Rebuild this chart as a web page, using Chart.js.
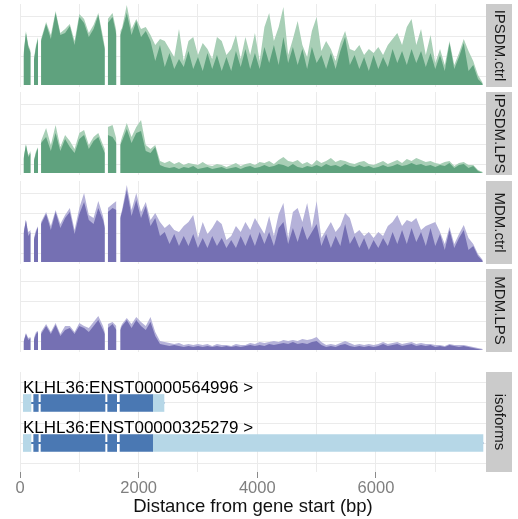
<!DOCTYPE html>
<html>
<head>
<meta charset="utf-8">
<script src="https://cdn.jsdelivr.net/npm/chart.js@4.4.1/dist/chart.umd.min.js"></script>
<style>
body { margin: 0; background: #fff; }
#wrap { position: relative; width: 518px; height: 519px; overflow: hidden; }
canvas { position: absolute; left: 0; }
</style>
</head>
<body>
<div id="wrap">
<canvas id="ipsdmCtrl" width="518" height="83" style="top:4px"></canvas>
<canvas id="ipsdmLps" width="518" height="83" style="top:92px"></canvas>
<canvas id="mdmCtrl" width="518" height="83" style="top:181px"></canvas>
<canvas id="mdmLps" width="518" height="83" style="top:269px"></canvas>
<canvas id="isoforms" width="518" height="147" style="top:372px"></canvas>
</div>
<script>
// distance from gene start (bp) of each coverage sample, null rows are the introns
let positions = [60, 100, 140, 180, 208,
    235, 270, 305, 331,
    355, 440, 520, 600, 680, 760, 840, 920, 1000, 1080, 1160, 1240, 1320, 1400, 1430, 1445,
    1480, 1560, 1625, 1655,
    1690,
    1720, 1800, 1880, 1960, 2040, 2120, 2200, 2280, 2360, 2440,
    2520, 2600, 2680, 2760, 2840, 2920, 3000, 3080, 3160, 3240,
    3320, 3400, 3480, 3560, 3640, 3720, 3800, 3880, 3960, 4040,
    4120, 4200, 4280, 4360, 4440, 4520, 4600, 4680, 4760, 4840,
    4920, 5000, 5080, 5160, 5240, 5320, 5400, 5480, 5560, 5640,
    5720, 5800, 5880, 5960, 6040, 6120, 6200, 6280, 6360, 6440,
    6520, 6600, 6680, 6760, 6840, 6920, 7000, 7080, 7160, 7240,
    7320, 7400, 7480, 7560, 7640, 7720, 7800];

let ipsdmCtrlLow = [30, 52, 38, 32, null,
    25, 38, 46, null,
    44, 61, 46, 72, 50, 52, 59, 40, 68, 62, 48, 56, 70, 44, 36, null,
    62, 68, 50, null,
    50,
    55, 72, 50, 64, 48, 54, 44, 24, 40, 18,
    32, 16, 26, 18, 34, 16, 28, 14, 32, 16,
    30, 14, 28, 14, 34, 18, 36, 16, 32, 16,
    38, 22, 40, 20, 48, 22, 38, 20, 36, 16,
    38, 22, 30, 16, 32, 16, 34, 48, 20, 30,
    16, 28, 14, 30, 16, 28, 18, 36, 22, 34,
    20, 36, 22, 34, 18, 32, 16, 30, 14, 42,
    16, 28, 42, 14, 20, 6, 1];
let ipsdmCtrlHigh = [32, 54, 40, 34, null,
    27, 40, 48, null,
    46, 63, 50, 74, 52, 56, 61, 44, 71, 66, 52, 60, 72, 48, 38, null,
    66, 72, 54, null,
    54,
    57, 80, 56, 66, 56, 58, 50, 40, 46, 44,
    36, 28, 56, 24, 44, 48, 30, 42, 36, 26,
    48, 44, 30, 36, 50, 26, 48, 30, 52, 24,
    58, 72, 44, 58, 78, 30, 46, 64, 40, 28,
    54, 68, 34, 44, 36, 24, 42, 54, 36, 34,
    40, 30, 36, 32, 38, 30, 40, 46, 52, 40,
    58, 66, 40, 56, 30, 50, 22, 36, 20, 44,
    20, 32, 46, 34, 24, 10, 2];

let ipsdmLpsLow = [14, 28, 16, 20, null,
    12, 20, 25, null,
    30, 36, 22, 40, 22, 34, 26, 20, 34, 38, 24, 32, 36, 24, 20, null,
    38, 36, 30, null,
    28,
    32, 44, 30, 40, 42, 22, 20, 26, 8, 6,
    5, 6, 4, 6, 5, 7, 4, 5, 6, 4,
    5, 6, 4, 5, 6, 4, 6, 7, 5, 6,
    8, 6, 7, 9, 8, 6, 9, 6, 5, 7,
    6, 8, 6, 9, 7, 8, 6, 9, 7, 6,
    8, 6, 7, 5, 6, 8, 6, 7, 9, 7,
    8, 10, 8, 9, 7, 8, 6, 8, 7, 10,
    5, 8, 9, 5, 7, 2, 0];
let ipsdmLpsHigh = [15, 29, 18, 22, null,
    13, 22, 26, null,
    32, 45, 28, 48, 26, 38, 32, 24, 40, 43, 28, 36, 40, 28, 24, null,
    46, 48, 34, null,
    30,
    36, 50, 36, 46, 53, 28, 24, 28, 12, 10,
    12, 9, 11, 8, 10, 9, 8, 11, 8, 7,
    9, 8, 6, 8, 10, 7, 9, 10, 8, 11,
    10, 12, 9, 13, 16, 12, 11, 13, 9, 11,
    8, 13, 10, 12, 15, 11, 13, 12, 10, 9,
    11, 12, 9, 8, 10, 12, 9, 11, 13, 10,
    14, 12, 15, 13, 11, 12, 10, 9, 11, 12,
    7, 10, 11, 8, 8, 3, 1];

let mdmCtrlLow = [28, 42, 26, 30, null,
    22, 30, 35, null,
    38, 48, 32, 50, 34, 44, 50, 28, 48, 60, 42, 38, 54, 42, 34, null,
    50, 54, 52, null,
    44,
    50, 72, 46, 62, 44, 56, 36, 44, 26, 30,
    18, 28, 16, 26, 16, 28, 14, 24, 14, 26,
    16, 24, 14, 22, 14, 26, 16, 28, 16, 30,
    18, 30, 16, 34, 40, 18, 34, 20, 36, 22,
    30, 38, 16, 28, 14, 26, 16, 38, 18, 26,
    14, 24, 12, 22, 14, 24, 16, 30, 18, 32,
    18, 34, 20, 30, 16, 34, 16, 28, 12, 32,
    14, 24, 32, 12, 16, 6, 1];
let mdmCtrlHigh = [30, 42, 30, 32, null,
    24, 32, 36, null,
    40, 50, 36, 52, 38, 47, 54, 32, 54, 69, 47, 44, 61, 46, 36, null,
    54, 58, 61, null,
    46,
    52, 77, 52, 69, 50, 60, 42, 49, 40, 34,
    38, 32, 30, 36, 40, 47, 24, 40, 28, 34,
    42, 38, 22, 26, 36, 30, 40, 32, 44, 36,
    28, 46, 26, 48, 59, 24, 50, 54, 40, 59,
    34, 61, 24, 32, 40, 30, 36, 49, 44, 28,
    32, 26, 30, 24, 30, 26, 36, 40, 47, 36,
    42, 40, 44, 32, 36, 38, 40, 30, 18, 35,
    18, 28, 37, 24, 18, 8, 2];

let mdmLpsLow = [8, 16, 10, 12, null,
    10, 16, 18, null,
    16, 24, 16, 25, 14, 20, 22, 16, 24, 22, 18, 24, 30, 20, 16, null,
    22, 26, 20, null,
    20,
    24, 30, 22, 30, 24, 20, 28, 14, 6, 5,
    4, 5, 4, 3, 4, 3, 4, 3, 4, 3,
    4, 3, 4, 3, 4, 3, 4, 5, 4, 5,
    4, 6, 5, 6, 7, 6, 8, 6, 7, 6,
    8, 9, 5, 3, 4, 3, 5, 6, 4, 3,
    4, 3, 4, 3, 4, 6, 4, 5, 6, 4,
    5, 6, 4, 5, 4, 5, 3, 4, 3, 5,
    4, 3, 4, 3, 2, 1, 0];
let mdmLpsHigh = [9, 17, 12, 13, null,
    12, 18, 19, null,
    18, 26, 18, 27, 16, 24, 24, 18, 27, 24, 22, 28, 34, 24, 18, null,
    26, 28, 24, null,
    22,
    26, 32, 26, 33, 28, 24, 33, 18, 9, 8,
    7, 6, 7, 5, 6, 5, 6, 5, 6, 4,
    6, 5, 5, 4, 6, 5, 5, 7, 6, 8,
    7, 8, 9, 8, 10, 9, 10, 9, 11, 10,
    11, 13, 8, 5, 6, 5, 7, 9, 7, 5,
    6, 5, 6, 5, 6, 8, 6, 7, 8, 6,
    7, 8, 6, 7, 6, 6, 5, 5, 4, 6,
    5, 5, 5, 4, 3, 2, 1];

// transcripts: name, track, whole span, UTR pieces and coding exons (bp)
let isoformNames = ['KLHL36:ENST00000564996 >', 'KLHL36:ENST00000325279 >'];
let isoformTracks = [2, 1];
let isoformSpans = [[56, 2427], [56, 7804]];
let isoformUtr = [[[56, 185], [2236, 2427]], [[56, 185], [2236, 7804]]];
let isoformCds = [[[231, 308], [354, 1433], [1478, 1630], [1686, 2236]],
                  [[231, 308], [354, 1433], [1478, 1630], [1686, 2236]]];

let xGrid = [0, 1000, 2000, 3000, 4000, 5000, 6000, 7000];
let xTickLabels = ['0', '2000', '4000', '6000'];
let xMax = 7855;
let coverageGrid = [9, 29, 49, 69];
let isoformGrid = [0.5, 1, 1.5, 2, 2.5];

Chart.defaults.font.family = 'Liberation Sans';

let stripPlugin = {
    id: 'strip',
    beforeDraw(chart) {
        let s = chart.scales.y;
        let area = chart.chartArea;
        chart.ctx.save();
        chart.ctx.fillStyle = '#cbcbcb';
        chart.ctx.fillRect(s.left, area.top, s.right - s.left, area.bottom - area.top);
        chart.ctx.restore();
    }
};

function xAxis(showLabels) {
    return {
        type: 'linear', min: 0, max: xMax,
        afterBuildTicks: s => { s.ticks = xGrid.map(v => ({value: v})); },
        afterFit: s => { s.height = showLabels ? 47 : 0; },
        border: {display: false},
        grid: {
            color: '#ebebeb', drawTicks: showLabels, tickLength: 6,
            tickColor: c => (c.tick && xTickLabels.includes(String(c.tick.value))) ? '#8a8a8a' : 'rgba(0,0,0,0)'
        },
        ticks: {
            display: showLabels, autoSkip: false, maxRotation: 0, padding: 2, color: '#7f7f7f',
            font: {size: 16.5, lineHeight: 1},
            callback: v => xTickLabels.includes(String(v)) ? String(v) : ''
        },
        title: {
            display: showLabels, text: 'Distance from gene start (bp)', color: '#111',
            font: {size: 18.5, lineHeight: 1}, padding: {top: 0, bottom: 3}
        }
    };
}

function yAxis(label, min, max, grid) {
    return {
        type: 'linear', position: 'right', min: min, max: max, offset: false,
        afterBuildTicks: s => { s.ticks = grid.map(v => ({value: v})); },
        afterFit: s => { s.width = 26; },
        border: {display: false},
        grid: {color: '#ebebeb', drawTicks: false, offset: false},
        ticks: {display: false},
        title: {
            display: true, text: label, color: '#1a1a1a',
            font: {size: 15, lineHeight: 1.2}, padding: {top: 4, bottom: 0}
        }
    };
}

function toPoints(values) {
    return positions.map((x, i) => ({x: x, y: values[i]}));
}

function showCoverage(id, label, low, high, darkColor, lightColor) {
    let ctx = document.getElementById(id).getContext('2d');
    return new Chart(ctx, {
        type: 'line',
        data: {
            datasets: [{
                data: toPoints(low),
                fill: 'origin',
                backgroundColor: darkColor,
                borderColor: 'rgba(0,0,0,0)',
                borderWidth: 0,
                pointRadius: 0,
                tension: 0,
                spanGaps: false
            }, {
                data: toPoints(high),
                fill: 'origin',
                backgroundColor: lightColor,
                borderColor: 'rgba(0,0,0,0)',
                borderWidth: 0,
                pointRadius: 0,
                tension: 0,
                spanGaps: false
            }]
        },
        options: {
            responsive: false,
            animation: false,
            layout: {padding: {left: 20, right: 6, top: 0, bottom: 0}},
            plugins: {legend: {display: false}, tooltip: {enabled: false}},
            scales: {
                x: xAxis(false),
                y: yAxis(label, -2, 81, coverageGrid)
            }
        },
        plugins: [stripPlugin]
    });
}

function showIsoforms() {
    let ctx = document.getElementById('isoforms').getContext('2d');
    let introns = isoformSpans.map((s, i) => ({x: s, y: isoformTracks[i]}));
    let utr = [];
    let cds = [];
    isoformTracks.forEach((t, i) => {
        isoformUtr[i].forEach(e => utr.push({x: e, y: t}));
        isoformCds[i].forEach(e => cds.push({x: e, y: t}));
    });
    let labelPlugin = {
        id: 'isoformLabels',
        afterDatasetsDraw(chart) {
            let c = chart.ctx;
            c.save();
            c.font = '17px "Liberation Sans"';
            c.fillStyle = '#000';
            c.textAlign = 'left';
            c.textBaseline = 'alphabetic';
            isoformNames.forEach((name, i) => {
                c.fillText(name, chart.scales.x.getPixelForValue(50), chart.scales.y.getPixelForValue(isoformTracks[i] + 0.25));
            });
            c.restore();
        }
    };
    return new Chart(ctx, {
        type: 'bar',
        data: {
            datasets: [
                {data: cds, backgroundColor: '#4a78b3', barThickness: 17, grouped: false, borderWidth: 0},
                {data: utr, backgroundColor: '#b6d7e7', barThickness: 17, grouped: false, borderWidth: 0},
                {data: introns, backgroundColor: '#4a78b3', barThickness: 1.2, grouped: false, borderWidth: 0}
            ]
        },
        options: {
            indexAxis: 'y',
            responsive: false,
            animation: false,
            layout: {padding: {left: 20, right: 6, top: 0, bottom: 0}},
            plugins: {legend: {display: false}, tooltip: {enabled: false}},
            scales: {
                x: xAxis(true),
                y: yAxis('isoforms', 0.275, 2.775, isoformGrid)
            }
        },
        plugins: [stripPlugin, labelPlugin]
    });
}

showCoverage('ipsdmCtrl', 'IPSDM.ctrl', ipsdmCtrlLow, ipsdmCtrlHigh, '#5fa27e', '#a8cfb6');
showCoverage('ipsdmLps', 'IPSDM.LPS', ipsdmLpsLow, ipsdmLpsHigh, '#5fa27e', '#a8cfb6');
showCoverage('mdmCtrl', 'MDM.ctrl', mdmCtrlLow, mdmCtrlHigh, '#7570b3', '#b5b2d9');
showCoverage('mdmLps', 'MDM.LPS', mdmLpsLow, mdmLpsHigh, '#7570b3', '#b5b2d9');
showIsoforms();
</script>
</body>
</html>
